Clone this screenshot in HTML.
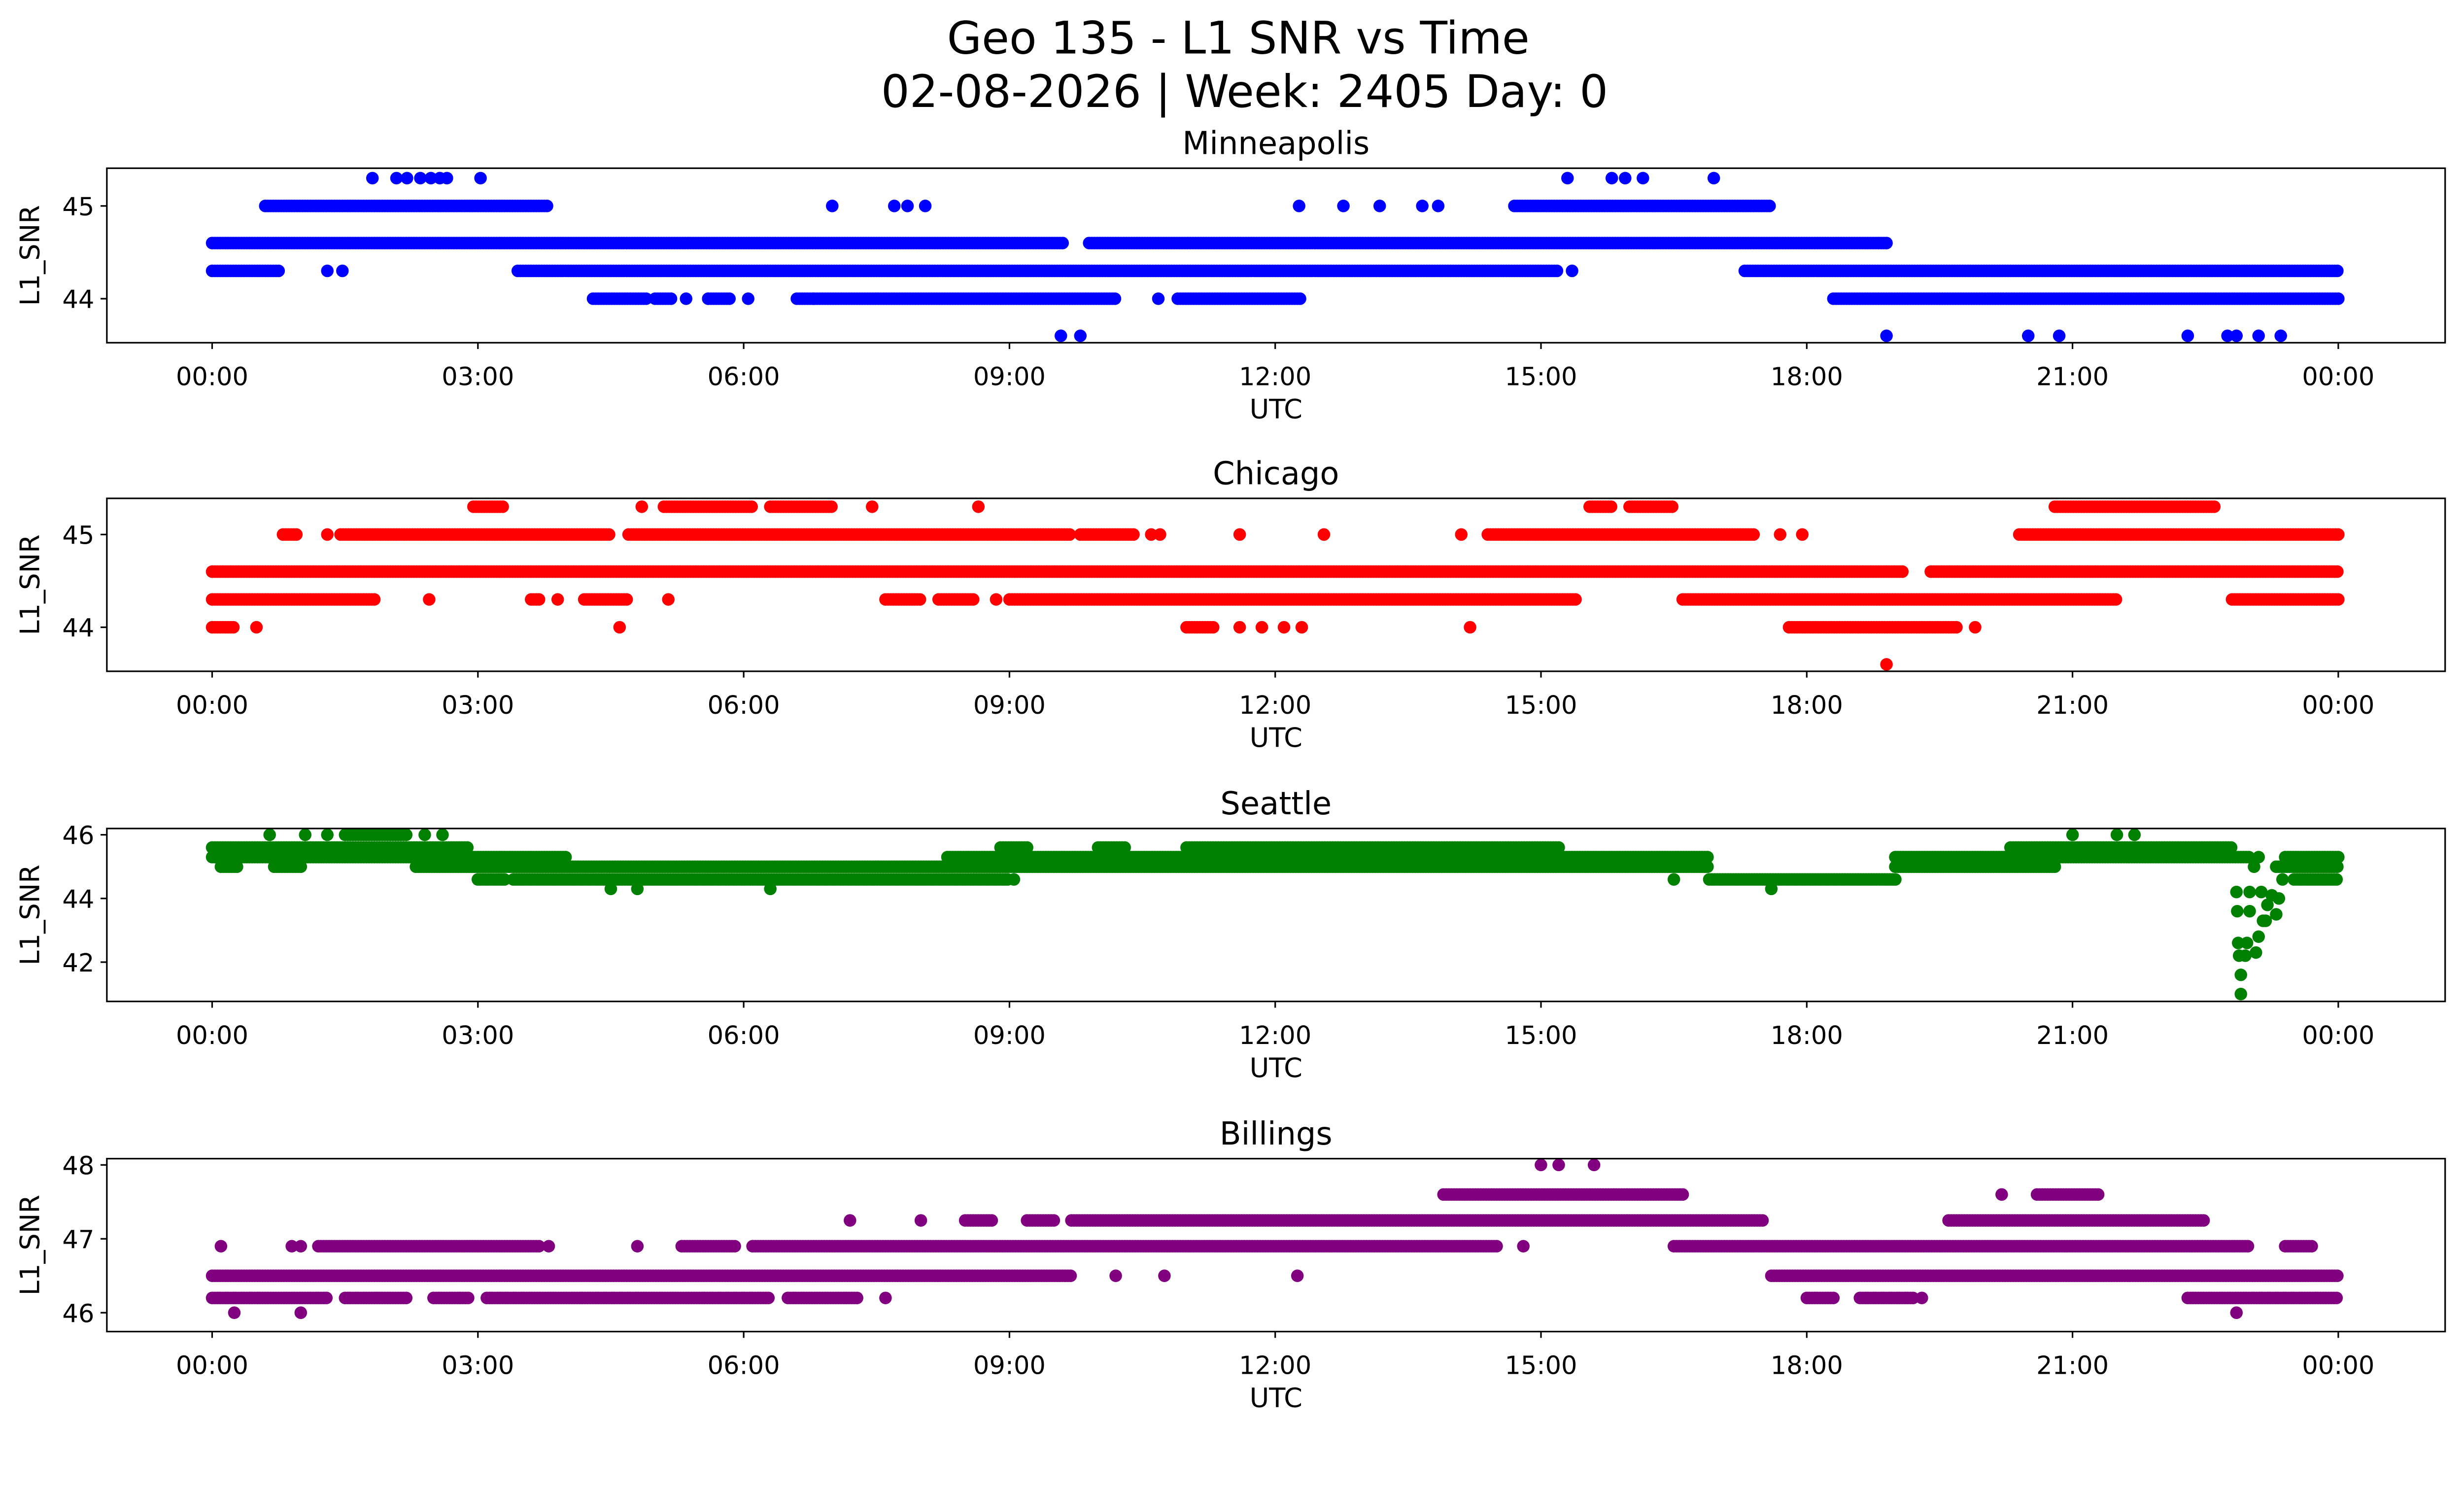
<!DOCTYPE html>
<html><head><meta charset="utf-8"><style>
html,body{margin:0;padding:0;background:#fff;overflow:hidden;}
svg{display:block;width:100vw;height:58.048vw;font-family:"DejaVu Sans","Liberation Sans",sans-serif;}
</style></head><body>
<svg id="fig" viewBox="0 0 1568 910" preserveAspectRatio="none" xmlns="http://www.w3.org/2000/svg">
<rect x="0" y="0" width="1568" height="910" fill="#fff"/>
<text x="788" y="34" font-size="28.5" text-anchor="middle">Geo 135 - L1 SNR vs Time</text>
<text x="792" y="68" font-size="28.5" text-anchor="middle">02-08-2026 | Week: 2405 Day: 0</text>
</svg>
<script>
// ---- data (hours UTC, SNR level) ----
const xTickLabels = ["00:00","03:00","06:00","09:00","12:00","15:00","18:00","21:00","00:00"];
const xTickHours = [0,3,6,9,12,15,18,21,24];

const mplsRuns = [[44.6,0,9.6],[44.6,9.9,18.9],[44.3,0,0.75],[44.3,3.45,15.2],[44.3,17.3,24],
 [45,0.6,3.8],[45,14.7,17.6],[44,4.3,4.9],[44,5.0,5.2],[44,5.6,5.85],[44,6.6,6.8],[44,6.8,10.2],[44,10.9,12.3],[44,18.3,24]];
const mplsPts = [[44.3,1.3],[44.3,1.47],[44.3,15.35],[45,7.0],[45,7.7],[45,7.85],[45,8.05],[45,12.27],[45,12.77],[45,13.18],[45,13.66],[45,13.84],
 [45.3,1.81],[45.3,2.08],[45.3,2.2],[45.3,2.35],[45.3,2.47],[45.3,2.57],[45.3,2.65],[45.3,3.03],[45.3,15.3],[45.3,15.8],[45.3,15.95],[45.3,16.15],[45.3,16.95],
 [44,5.35],[44,5.6],[44,6.05],[44,10.68],[43.6,9.58],[43.6,9.8],[43.6,18.9],[43.6,20.5],[43.6,20.85],[43.6,22.3],[43.6,22.75],[43.6,22.85],[43.6,23.1],[43.6,23.35]];

const chiRuns = [[44.6,0,19.1],[44.6,19.4,24],[44.3,0,1.85],[44.3,3.6,3.7],[44.3,4.2,4.7],[44.3,7.6,8.0],[44.3,8.2,8.6],[44.3,9.0,15.4],[44.3,16.6,21.5],[44.3,22.8,24],
 [45,0.8,0.95],[45,1.45,4.5],[45,4.7,9.7],[45,9.8,10.4],[45,14.4,17.4],[45,20.4,24],
 [45.3,2.95,3.3],[45.3,5.1,6.1],[45.3,6.3,7.0],[45.3,15.55,15.8],[45.3,16.0,16.5],[45.3,20.8,22.6],[44,0,0.25],[44,17.8,19.7],[44,11.0,11.3]];
const chiPts = [[44.3,2.45],[44.3,3.9],[44.3,5.15],[44.3,8.85],[45,1.3],[45,10.6],[45,10.7],[45,11.6],[45,12.55],[45,14.1],[45,17.7],[45,17.95],
 [45.3,4.85],[45.3,7.45],[45.3,8.65],[44,0.5],[44,4.6],[44,11.6],[44,11.85],[44,12.1],[44,12.3],[44,14.2],[44,19.9],[43.6,18.9]];

const seaRuns = [[45.6,0,2.9],[45.6,8.9,9.2],[45.6,10,10.3],[45.6,11,15.2],[45.6,20.3,22.8],
 [45.3,0,4.0],[45.3,8.3,16.9],[45.3,19.0,23.0],[45.3,23.4,24],
 [45,0.1,0.3],[45,0.7,1.0],[45,2.3,9.2],[45,9.2,16.9],[45,19.0,20.8],[45,23.3,24],
 [44.6,3.0,3.3],[44.6,3.4,9.0],[44.6,16.9,19.0],[44.6,23.5,24],[46,1.5,2.2]];
const seaPts = [[46,0.65],[46,1.05],[46,1.3],[46,2.4],[46,2.6],[46,21.0],[46,21.5],[46,21.7],
 [44.3,4.5],[44.3,4.8],[44.3,6.3],[44.3,17.6],[44.6,9.05],[44.6,16.5],
 [44.2,22.85],[43.6,22.86],[42.6,22.87],[42.2,22.88],[41.6,22.9],[41,22.9],[42.2,22.95],[42.6,22.97],[43.6,23.0],[44.2,23.0],[45,23.05],[45.3,23.1],
 [42.3,23.07],[42.8,23.1],[43.3,23.15],[43.8,23.2],[44.1,23.25],[43.5,23.3],[44,23.33],[44.6,23.37],[43.3,23.18],[44.2,23.13]];

const bilRuns = [[46.5,0,9.7],[46.5,17.6,24],[46.2,0,1.3],[46.2,1.5,2.2],[46.2,2.5,2.9],[46.2,3.1,6.3],[46.2,6.5,7.3],[46.2,18.0,18.3],[46.2,18.6,19.2],[46.2,22.3,24],
 [46.9,1.2,3.7],[46.9,5.3,5.9],[46.9,6.1,14.5],[46.9,16.5,23.0],[46.9,23.4,23.7],
 [47.25,8.5,8.8],[47.25,9.2,9.5],[47.25,9.7,17.5],[47.25,19.6,22.5],[47.6,13.9,16.6],[47.6,20.6,21.3]];
const bilPts = [[46.5,10.2],[46.5,10.75],[46.5,12.25],[46.9,0.1],[46.9,0.9],[46.9,1.0],[46.9,3.8],[46.9,4.8],[46.9,14.8],
 [47.25,7.2],[47.25,8.0],[47.6,20.2],[48,15.0],[48,15.2],[48,15.6],[46,0.25],[46,1.0],[46,22.85],[46.2,7.6],[46.2,19.3]];

const panels = [
 {name:"minneapolis", title:"Minneapolis", color:"#0000ff", top:107, bottom:218, yTicks:[44,45], yRef:[45,131,44,190], runs:mplsRuns, pts:mplsPts},
 {name:"chicago", title:"Chicago", color:"#ff0000", top:317, bottom:427, yTicks:[44,45], yRef:[45,340,44,399], runs:chiRuns, pts:chiPts},
 {name:"seattle", title:"Seattle", color:"#008000", top:527, bottom:637, yTicks:[42,44,46], yRef:[46,531,42,612], runs:seaRuns, pts:seaPts},
 {name:"billings", title:"Billings", color:"#800080", top:737, bottom:847, yTicks:[46,47,48], yRef:[48,741,46,835], runs:bilRuns, pts:bilPts}
];

const NS="http://www.w3.org/2000/svg";
const svg=document.getElementById("fig");
const X0=68, X1=1556;
function xScale(h){return 135 + h*(1488-135)/24;}
function mk(tag,attrs,parent){const e=document.createElementNS(NS,tag);for(const k in attrs)e.setAttribute(k,attrs[k]);parent.appendChild(e);return e;}

panels.forEach(p=>{
 const [v1,y1,v2,y2]=p.yRef;
 const yScale=v=>y1+(v-v1)*(y2-y1)/(v2-v1);
 const g=mk("g",{},svg);
 
 
 const t=mk("text",{x:(X0+X1)/2,y:p.top-9,"font-size":20,"text-anchor":"middle"},g);
 t.textContent=p.title;
 
 
 const marks=mk("g",{fill:p.color},g);
 
 
 const draw=(v,h)=>{const c=mk("circle",{cx:xScale(h).toFixed(1),cy:yScale(v).toFixed(1),r:4},marks);
   
   };
 p.runs.forEach(r=>{for(let h=r[1];h<=r[2]+1e-9;h+=0.03)draw(r[0],h);});
 p.pts.forEach(q=>draw(q[0],q[1]));
 const box=mk("rect",{x:X0,y:p.top,width:X1-X0,height:p.bottom-p.top,fill:"none",stroke:"#000","stroke-width":1},g);
 
 
 xTickHours.forEach((h,i)=>{
   const x=xScale(h);
   mk("line",{x1:x,x2:x,y1:p.bottom,y2:p.bottom+4,stroke:"#000"},g);
   const tl=mk("text",{x:x,y:p.bottom+27,"font-size":16,"text-anchor":"middle"},g);
   tl.textContent=xTickLabels[i];
   
   
 });
 p.yTicks.forEach(v=>{
   const y=yScale(v);
   mk("line",{x1:X0-4,x2:X0,y1:y,y2:y,stroke:"#000"},g);
   const tl=mk("text",{x:X0-8,y:y+6,"font-size":16,"text-anchor":"end"},g);
   tl.textContent=String(v);
   
   
 });
 const xl=mk("text",{x:(X0+X1)/2,y:p.bottom+48,"font-size":17,"text-anchor":"middle"},g);
 xl.textContent="UTC";
 
 
 const cy=(p.top+p.bottom)/2;
 const yl=mk("text",{x:25,y:cy,"font-size":17,"text-anchor":"middle",transform:"rotate(-90 25 "+cy+")"},g);
 yl.textContent="L1_SNR";
 
 
});
</script>
</body></html>
